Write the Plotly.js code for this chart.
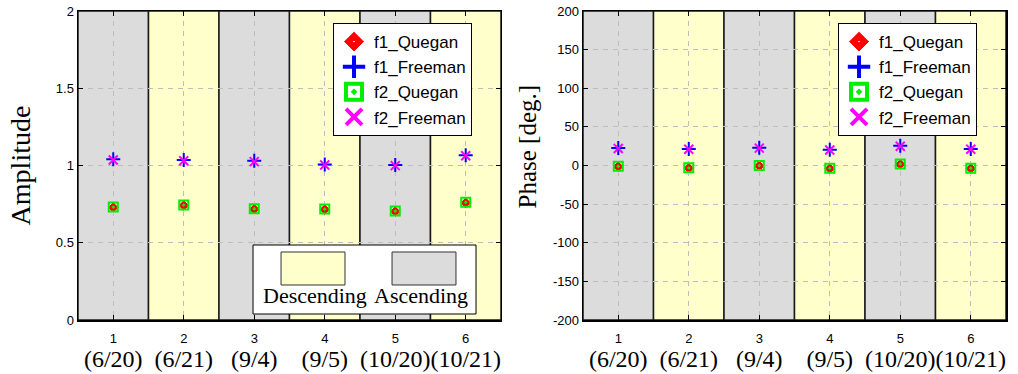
<!DOCTYPE html>
<html><head><meta charset="utf-8">
<script src="https://cdn.plot.ly/plotly-3.0.1.min.js"></script>
<style>html,body{margin:0;padding:0;background:#fff}#chart{width:1018px;height:374px}</style>
</head><body><div id="chart"></div>
<script>
const categories = [1, 2, 3, 4, 5, 6];
const dates = ['(6/20)', '(6/21)', '(9/4)', '(9/5)', '(10/20)', '(10/21)'];
const passType = ['Ascending', 'Descending', 'Ascending', 'Descending', 'Ascending', 'Descending'];
const seriesNames = ['f1_Quegan', 'f1_Freeman', 'f2_Quegan', 'f2_Freeman'];
const ampF1Quegan = [0.728, 0.741, 0.717, 0.715, 0.702, 0.758];
const ampF1Freeman = [1.040, 1.035, 1.030, 1.006, 1.003, 1.066];
const ampF2Quegan = [0.731, 0.744, 0.720, 0.718, 0.705, 0.762];
const ampF2Freeman = [1.036, 1.031, 1.025, 1.003, 0.999, 1.063];
const phF1Quegan = [-1.5, -3.5, -0.5, -4, 1.5, -4];
const phF1Freeman = [22.5, 21.5, 23, 20.5, 25.5, 21.5];
const phF2Quegan = [-1, -3, 0, -3.5, 2, -3.5];
const phF2Freeman = [22, 21, 22.5, 20, 25, 21];
const ampTicks = [0, 0.5, 1, 1.5, 2];
const phaseTicks = [-200, -150, -100, -50, 0, 50, 100, 150, 200];
const passLabels = ['Descending', 'Ascending'];
const titles = ['Amplitude', 'Phase [deg.]'];

const colors = {Ascending: '#dcdcdc', Descending: '#ffffcc'};
const styles = [
  {symbol: 'diamond-dot', color: '#ff0000', line: {color: '#ffffff', width: 1}},
  {symbol: 'cross-thin-open', color: '#0000ff', line: {color: '#0000ff', width: 2}},
  {symbol: 'square-open-dot', color: '#00ee00', line: {color: '#00ee00', width: 2}},
  {symbol: 'x-thin-open', color: '#ff00ff', line: {color: '#ff00ff', width: 2}}
];
const dataSizes = [9, 10, 9, 9];
const legendStyles = [
  {symbol: 'diamond-dot', color: '#ff0000', line: {color: '#ffffff', width: 1}},
  {symbol: 'cross-thin-open', color: '#0000ff', line: {color: '#0000ff', width: 4}},
  {symbol: 'square-open-dot', color: '#00ee00', line: {color: '#00ee00', width: 4}},
  {symbol: 'x-thin-open', color: '#ff00ff', line: {color: '#ff00ff', width: 4}}
];

const ampSeries = [ampF1Quegan, ampF1Freeman, ampF2Quegan, ampF2Freeman];
const phSeries = [phF1Quegan, phF1Freeman, phF2Quegan, phF2Freeman];
const drawOrder = [0, 2, 1, 3];

const traces = [];
function addPanel(series, xa, ya, legendId) {
  drawOrder.forEach(k => {
    traces.push({x: categories, y: series[k], xaxis: xa, yaxis: ya, type: 'scatter', mode: 'markers',
      name: seriesNames[k], showlegend: false, hoverinfo: 'x+y',
      marker: {symbol: styles[k].symbol, size: dataSizes[k], color: styles[k].color, line: styles[k].line}});
  });
  seriesNames.forEach((nm, k) => {
    traces.push({x: [null], y: [null], xaxis: xa, yaxis: ya, type: 'scatter', mode: 'markers',
      name: nm, legend: legendId, showlegend: true,
      marker: {symbol: legendStyles[k].symbol, size: 16, color: legendStyles[k].color, line: legendStyles[k].line}});
  });
}
addPanel(ampSeries, 'x', 'y', 'legend');
addPanel(phSeries, 'x2', 'y2', 'legend2');

const shapes = [];
['x', 'x2'].forEach((xr, p) => {
  const yr = p === 0 ? 'y domain' : 'y2 domain';
  categories.forEach((c, i) => {
    shapes.push({type: 'rect', xref: xr, yref: yr, x0: c - 0.5, x1: c + 0.5, y0: 0, y1: 1,
      fillcolor: colors[passType[i]], line: {color: '#1a1a1a', width: 1.5}, layer: 'below'});
  });
});
// pass-type key box (left panel)
shapes.push({type: 'rect', xref: 'paper', yref: 'paper', x0: 0.1886, x1: 0.4289, y0: 0.0194, y1: 0.2427,
  fillcolor: '#ffffff', line: {color: '#000', width: 1}, layer: 'above'});
shapes.push({type: 'rect', xref: 'paper', yref: 'paper', x0: 0.2188, x1: 0.2877, y0: 0.1133, y1: 0.2201,
  fillcolor: colors[passLabels[0]], line: {color: '#333', width: 1}, layer: 'above'});
shapes.push({type: 'rect', xref: 'paper', yref: 'paper', x0: 0.3384, x1: 0.4073, y0: 0.1133, y1: 0.2201,
  fillcolor: colors[passLabels[1]], line: {color: '#333', width: 1}, layer: 'above'});

const annotations = [
  {xref: 'paper', yref: 'paper', x: 0.2554, y: 0.0777, text: passLabels[0], showarrow: false,
    font: {family: 'Liberation Serif', size: 22, color: '#000'}, xanchor: 'center', yanchor: 'middle'},
  {xref: 'paper', yref: 'paper', x: 0.3696, y: 0.0777, text: passLabels[1], showarrow: false,
    font: {family: 'Liberation Serif', size: 22, color: '#000'}, xanchor: 'center', yanchor: 'middle'},
  {xref: 'paper', yref: 'paper', x: 0.4849, y: 0.5615, text: titles[1], showarrow: false, textangle: -90,
    font: {family: 'Liberation Serif', size: 25, color: '#000'}, xanchor: 'center', yanchor: 'middle'}
];

const tickText = categories.map((c, i) =>
  "<span style='font-family:Liberation Sans;font-size:13px'>" + c + "</span><br>" +
  "<span style='font-size:24px'>" + dates[i] + "</span>");

function xAxis(domain, anchor) {
  return {domain: domain, anchor: anchor, range: [0.5, 6.5], tickmode: 'array', tickvals: categories, ticktext: tickText,
    tickfont: {family: 'Liberation Serif', size: 18, color: '#000'}, tickangle: 0,
    showgrid: true, gridcolor: '#bdbdbd', griddash: '5px,5px', gridwidth: 1,
    showline: true, linecolor: '#000', linewidth: 1.5, mirror: 'ticks', ticks: 'inside', ticklen: 5, tickcolor: '#000',
    zeroline: false, fixedrange: true};
}
function yAxis(anchor, ticks, range, title, tsize, standoff) {
  return {anchor: anchor, range: range, tickmode: 'array', tickvals: ticks, ticktext: ticks.map(String),
    tickfont: {family: 'Liberation Sans', size: 13, color: '#000'},
    title: {text: title, font: {family: 'Liberation Serif', size: tsize, color: '#000'}, standoff: standoff},
    showgrid: true, gridcolor: '#bdbdbd', griddash: '5px,5px', gridwidth: 1,
    showline: true, linecolor: '#000', linewidth: 1.5, mirror: 'ticks', ticks: 'inside', ticklen: 5, tickcolor: '#000',
    zeroline: false, fixedrange: true, automargin: false};
}

const legendBase = {bgcolor: '#ffffff', bordercolor: '#000', borderwidth: 1,
  font: {family: 'Liberation Sans', size: 17, color: '#000'}, xanchor: 'left', yanchor: 'top',
  tracegroupgap: 0, itemwidth: 30};

const layout = {
  width: 1018, height: 374,
  margin: {l: 78, r: 12, t: 11, b: 54},
  paper_bgcolor: '#ffffff', plot_bgcolor: '#ffffff',
  showlegend: true,
  xaxis: xAxis([0, 0.4558], 'y'),
  yaxis: yAxis('x', ampTicks, [0, 2], titles[0], 28, 17),
  xaxis2: xAxis([0.5442, 1], 'y2'),
  yaxis2: yAxis('x2', phaseTicks, [-200, 200], '', 25, 9),
  legend: Object.assign({x: 0.2748, y: 0.961}, legendBase),
  legend2: Object.assign({x: 0.819, y: 0.961}, legendBase),
  shapes: shapes,
  annotations: annotations
};

Plotly.newPlot('chart', traces, layout, {displayModeBar: false, staticPlot: true});
</script></body></html>
